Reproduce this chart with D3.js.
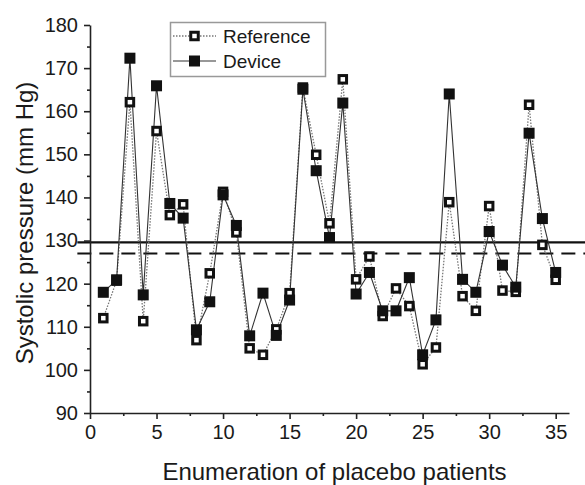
<!DOCTYPE html>
<html>
<head>
<meta charset="utf-8">
<script src="https://cdn.jsdelivr.net/npm/d3@7"></script>
<style>
  html, body { margin: 0; padding: 0; background: #fff; }
  svg { display: block; font-family: "Liberation Sans", Arial, sans-serif; }
</style>
</head>
<body>
<svg id="chart" width="585" height="485"></svg>
<script>
// ---- data ----
const patients = d3.range(1, 36);
const device = [118.0, 120.9, 172.3, 117.4, 165.9, 138.6, 135.2, 109.3, 115.8, 140.6,
                133.5, 107.9, 117.8, 108.0, 116.2, 165.1, 146.2, 130.7, 161.9, 117.6,
                122.6, 113.7, 113.7, 121.4, 103.5, 111.6, 164.0, 121.0, 118.0, 132.1,
                124.3, 119.2, 154.9, 135.1, 122.6];
const reference = [112.0, 120.7, 162.1, 111.3, 155.4, 135.9, 138.4, 106.9, 122.4, 141.3,
                   131.9, 105.0, 103.5, 109.4, 117.8, 165.5, 149.9, 134.0, 167.4, 121.0,
                   126.3, 112.5, 118.9, 114.8, 101.3, 105.2, 138.9, 117.1, 113.7, 138.0,
                   118.4, 118.1, 161.5, 129.0, 120.9];
const meanDevice = 129.6;
const meanReference = 127.0;
const xTicks = [0, 5, 10, 15, 20, 25, 30, 35];
const xMinorTicks = [2.5, 7.5, 12.5, 17.5, 22.5, 27.5, 32.5];
const yTicks = [90, 100, 110, 120, 130, 140, 150, 160, 170, 180];
const yMinorTicks = [95, 105, 115, 125, 135, 145, 155, 165, 175];
const seriesNames = ["Reference", "Device"];

// ---- layout ----
const svg = d3.select("#chart");
const x = d3.scaleLinear().domain([0, 36]).range([90, 569]);
const y = d3.scaleLinear().domain([90, 180]).range([413, 25]);

// mean lines (behind)
svg.append("line")
  .attr("x1", x(-0.95)).attr("x2", 585)
  .attr("y1", y(meanDevice)).attr("y2", y(meanDevice))
  .attr("stroke", "#111").attr("stroke-width", 2.2);
svg.append("line")
  .attr("x1", x(-0.95)).attr("x2", 585)
  .attr("y1", y(meanReference)).attr("y2", y(meanReference))
  .attr("stroke", "#111").attr("stroke-width", 2.2)
  .attr("stroke-dasharray", "14,8");

// axes
const fontTick = 20;
function styleAxis(g) {
  g.selectAll("path").attr("stroke", "#222").attr("stroke-width", 1.6);
  g.selectAll("line").attr("stroke", "#222").attr("stroke-width", 1.6);
  g.selectAll("text").attr("font-size", fontTick).attr("fill", "#1a1a1a")
    .attr("font-family", "Liberation Sans, Arial, sans-serif");
}
const gx = svg.append("g").attr("transform", `translate(0,${y(90)})`)
  .call(d3.axisBottom(x).tickValues(xTicks).tickSize(6).tickSizeOuter(0).tickPadding(6));
styleAxis(gx);
const gxm = svg.append("g").attr("transform", `translate(0,${y(90)})`)
  .call(d3.axisBottom(x).tickValues(xMinorTicks).tickSize(3).tickSizeOuter(0).tickFormat(""));
styleAxis(gxm);
gxm.select("path").remove();

const gy = svg.append("g").attr("transform", `translate(${x(0)},0)`)
  .call(d3.axisLeft(y).tickValues(yTicks).tickSize(6).tickSizeOuter(0).tickPadding(6));
styleAxis(gy);
const gym = svg.append("g").attr("transform", `translate(${x(0)},0)`)
  .call(d3.axisLeft(y).tickValues(yMinorTicks).tickSize(3).tickSizeOuter(0).tickFormat(""));
styleAxis(gym);
gym.select("path").remove();

// axis titles
svg.append("text")
  .attr("x", (x(0) + x(36)) / 2 + 5).attr("y", 480)
  .attr("text-anchor", "middle").attr("font-size", 24).attr("fill", "#1a1a1a")
  .text("Enumeration of placebo patients");
svg.append("text")
  .attr("transform", `translate(33,${(y(90) + y(180)) / 2 + 4}) rotate(-90)`)
  .attr("text-anchor", "middle").attr("font-size", 24).attr("fill", "#1a1a1a")
  .text("Systolic pressure (mm Hg)");

// series lines
const refData = patients.map((p, i) => [p, reference[i]]);
const devData = patients.map((p, i) => [p, device[i]]);
const line = d3.line().x(d => x(d[0])).y(d => y(d[1]));

svg.append("path").datum(refData).attr("d", line)
  .attr("fill", "none").attr("stroke", "#777").attr("stroke-width", 1.3)
  .attr("stroke-dasharray", "1.5,1.5");
svg.append("path").datum(devData).attr("d", line)
  .attr("fill", "none").attr("stroke", "#333").attr("stroke-width", 1.1);

// markers: reference first, device on top
const ms = 11;
const rs = 7.5;
svg.append("g").selectAll("rect").data(refData).join("rect")
  .attr("x", d => x(d[0]) - rs / 2).attr("y", d => y(d[1]) - rs / 2)
  .attr("width", rs).attr("height", rs).attr("fill", "#fff")
  .attr("stroke", "#111").attr("stroke-width", 3);
svg.append("g").selectAll("rect").data(devData).join("rect")
  .attr("x", d => x(d[0]) - ms / 2).attr("y", d => y(d[1]) - ms / 2)
  .attr("width", ms).attr("height", ms).attr("fill", "#111");

// legend
const lg = svg.append("g");
lg.append("rect").attr("x", 170.5).attr("y", 22.5).attr("width", 155).attr("height", 54)
  .attr("fill", "#fff").attr("stroke", "#999").attr("stroke-width", 1.5);
const legendRows = [
  { name: seriesNames[0], cy: 36, ref: true },
  { name: seriesNames[1], cy: 61, ref: false }
];
legendRows.forEach(r => {
  lg.append("line").attr("x1", 173).attr("x2", 216).attr("y1", r.cy).attr("y2", r.cy)
    .attr("stroke", r.ref ? "#777" : "#333").attr("stroke-width", r.ref ? 1.3 : 1.1)
    .attr("stroke-dasharray", r.ref ? "1.5,1.5" : null);
  if (r.ref) {
    lg.append("rect").attr("x", 194.5 - rs / 2).attr("y", r.cy - rs / 2)
      .attr("width", rs).attr("height", rs).attr("fill", "#fff")
      .attr("stroke", "#111").attr("stroke-width", 3);
  } else {
    lg.append("rect").attr("x", 194.5 - ms / 2).attr("y", r.cy - ms / 2)
      .attr("width", ms).attr("height", ms).attr("fill", "#111");
  }
  lg.append("text").attr("x", 223).attr("y", r.cy + 7)
    .attr("font-size", 19).attr("fill", "#1a1a1a").text(r.name);
});
</script>
</body>
</html>
